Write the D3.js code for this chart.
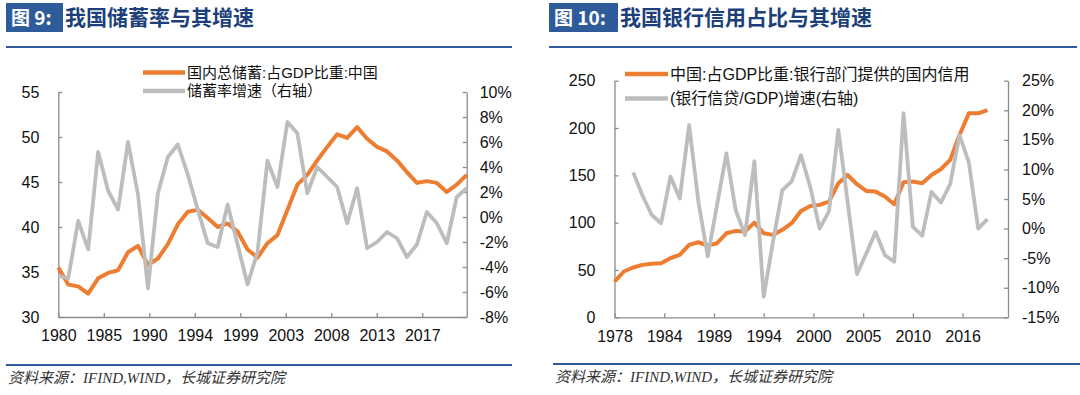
<!DOCTYPE html>
<meta charset="utf-8">
<style>
body { margin: 0; background: #fff; }
svg text { font-family: "Liberation Sans", Arial, "Noto Sans CJK SC", sans-serif; }
.axis path, .axis line { stroke: #8c8c8c; stroke-width: 1.3px; }
.axis text { font-size: 16px; fill: #111; }
.title { font-family: "Noto Sans CJK SC", sans-serif; font-weight: bold; }
.source { font-family: "Liberation Serif", "Noto Sans CJK SC", serif; font-style: italic; font-size: 15px; fill: #333; }
</style>
<body>
<script src="https://d3js.org/d3.v7.min.js"></script>
<script>

// ---- figure 9: savings rate ----
var years9 = [1980, 1981, 1982, 1983, 1984, 1985, 1986, 1987, 1988, 1989,
              1990, 1991, 1992, 1993, 1994, 1995, 1996, 1997, 1998, 1999,
              2000, 2001, 2002, 2003, 2004, 2005, 2006, 2007, 2008, 2009,
              2010, 2011, 2012, 2013, 2014, 2015, 2016, 2017, 2018, 2019,
              2020, 2021];
var savingShare = [35.5, 33.6, 33.4, 32.6, 34.3, 34.9, 35.2, 37.2, 37.9, 35.8,
                   36.5, 38.1, 40.3, 41.7, 41.9, 41.0, 40.0, 40.4, 39.5, 37.5,
                   36.6, 38.2, 39.1, 41.9, 44.7, 45.8, 47.4, 48.9, 50.3, 49.9,
                   51.1, 49.8, 48.9, 48.4, 47.4, 46.1, 44.9, 45.1, 44.9, 43.9,
                   44.7, 45.8];
var savingGrowth = [-4.7, -4.9, -0.3, -2.6, 5.2, 2.1, 0.6, 6.0, 1.8, -5.7,
                    1.9, 4.8, 5.8, 3.4, 0.6, -2.1, -2.4, 1.0, -2.2, -5.4,
                    -2.8, 4.5, 2.4, 7.6, 6.7, 1.9, 4.0, 3.2, 2.4, -0.5,
                    2.3, -2.5, -2.0, -1.2, -1.7, -3.2, -2.2, 0.4, -0.5, -2.1,
                    1.6, 2.3];
var xLabels9 = ["1980", "1985", "1990", "1994", "1999", "2003", "2008", "2013", "2017"];
var yLeft9 = [30, 35, 40, 45, 50, 55];
var yRight9 = [-8, -6, -4, -2, 0, 2, 4, 6, 8, 10];

// ---- figure 10: bank credit ----
var years10 = [1978, 1979, 1980, 1981, 1982, 1983, 1984, 1985, 1986, 1987,
               1988, 1989, 1990, 1991, 1992, 1993, 1994, 1995, 1996, 1997,
               1998, 1999, 2000, 2001, 2002, 2003, 2004, 2005, 2006, 2007,
               2008, 2009, 2010, 2011, 2012, 2013, 2014, 2015, 2016, 2017,
               2018];
var creditShare = [37.8, 48.4, 52.6, 55.4, 56.5, 57.2, 62.5, 66.0, 76.5, 79.3,
                   75.8, 78.3, 88.8, 91.3, 90.6, 100.1, 88.8, 87.1, 92.4, 99.4,
                   112.4, 117.7, 118.8, 122.3, 141.6, 150.4, 140.6, 133.5, 132.8, 127.6,
                   119.5, 142.7, 143.4, 141.6, 150.4, 156.4, 166.3, 192.6, 215.5, 215.5,
                   219.0];
var growthYears10 = [1980, 1981, 1982, 1983, 1984, 1985, 1986, 1987, 1988, 1989,
                     1990, 1991, 1992, 1993, 1994, 1995, 1996, 1997, 1998, 1999,
                     2000, 2001, 2002, 2003, 2004, 2005, 2006, 2007, 2008, 2009,
                     2010, 2011, 2012, 2013, 2014, 2015, 2016, 2017, 2018];
var creditGrowth = [9.5, 5.6, 2.3, 0.9, 8.8, 5.1, 17.5, 4.5, -4.7, 4.0,
                    12.7, 3.1, -1.1, 11.4, -11.5, -2.2, 6.5, 8.0, 12.4, 7.0,
                    0.0, 2.9, 16.7, 4.5, -7.7, -4.2, -0.6, -4.5, -5.6, 19.5,
                    0.3, -1.2, 6.2, 4.4, 7.5, 15.8, 11.2, 0.0, 1.6];
var xLabels10 = ["1978", "1984", "1989", "1994", "2000", "2005", "2010", "2016"];
var yLeft10 = [0, 50, 100, 150, 200, 250];
var yRight10 = [-15, -10, -5, 0, 5, 10, 15, 20, 25];

var ORANGE = "#ED7D31", GREY = "#BDBDBD", BLUE = "#2E5C9A";

var svg = d3.select("body").append("svg")
    .attr("width", 1080)
    .attr("height", 395);

function header(x0, x1, box, label, title) {
  svg.append("rect").attr("x", x0).attr("y", 3).attr("width", box).attr("height", 29).attr("fill", BLUE);
  svg.append("text").attr("class", "title").attr("x", x0 + 5).attr("y", 25)
     .attr("font-size", 19).attr("fill", "#fff").text(label);
  svg.append("text").attr("class", "title").attr("x", x0 + box + 2).attr("y", 25)
     .attr("font-size", 21).attr("fill", "#1D3F7A").text(title);
  svg.append("line").attr("x1", x0).attr("x2", x1).attr("y1", 47).attr("y2", 47)
     .attr("stroke", BLUE).attr("stroke-width", 2.2);
}

function footer(x0, x1, y) {
  svg.append("line").attr("x1", x0).attr("x2", x1).attr("y1", y).attr("y2", y)
     .attr("stroke", BLUE).attr("stroke-width", 2);
  svg.append("text").attr("class", "source").attr("x", x0 + 2).attr("y", y + 18)
     .text("资料来源：IFIND,WIND，长城证券研究院");
}

function panel(o) {
  var x = d3.scaleLinear().domain(o.xDomain).range([o.left, o.right]);
  var yL = d3.scaleLinear().domain(d3.extent(o.yLeft)).range([o.bottom, o.top]);
  var yR = d3.scaleLinear().domain(d3.extent(o.yRight)).range([o.bottom, o.top]);

  var tickVals = o.xLabels.map(function(d, i) { return o.xDomain[0] + i * o.tickStep; });
  svg.append("g").attr("class", "axis")
     .attr("transform", "translate(0," + o.bottom + ")")
     .call(d3.axisBottom(x).tickValues(tickVals).tickSizeInner(-4).tickSizeOuter(0)
           .tickPadding(13).tickFormat(function(d, i) { return o.xLabels[i]; }));
  svg.append("g").attr("class", "axis")
     .attr("transform", "translate(" + o.left + ",0)")
     .call(d3.axisLeft(yL).tickValues(o.yLeft).tickSizeInner(-4).tickSizeOuter(0)
           .tickPadding(o.padL));
  var gr = svg.append("g").attr("class", "axis")
     .attr("transform", "translate(" + o.right + ",0)")
     .call(d3.axisRight(yR).tickValues(o.yRight).tickSizeInner(-4).tickSizeOuter(0)
           .tickPadding(o.padR).tickFormat(function(d) { return d + "%"; }));

  var lineL = d3.line().x(function(d) { return x(d[0]); }).y(function(d) { return yL(d[1]); });
  var lineR = d3.line().x(function(d) { return x(d[0]); }).y(function(d) { return yR(d[1]); });

  svg.append("path").datum(d3.zip(o.years, o.left_values))
     .attr("d", lineL).attr("fill", "none").attr("stroke", ORANGE)
     .attr("stroke-width", 4).attr("stroke-linejoin", "round");
  svg.append("path").datum(d3.zip(o.yearsR, o.right_values))
     .attr("d", lineR).attr("fill", "none").attr("stroke", GREY)
     .attr("stroke-width", 3.8).attr("stroke-linejoin", "round");

  // legend
  var lg = svg.append("g").attr("transform", "translate(" + o.legX + "," + o.legY + ")");
  [[ORANGE, o.names[0]], [GREY, o.names[1]]].forEach(function(s, i) {
    lg.append("line").attr("x1", 0).attr("x2", o.legLen).attr("y1", i * o.legGap).attr("y2", i * o.legGap)
      .attr("stroke", s[0]).attr("stroke-width", 4.5);
    lg.append("text").attr("x", o.legLen + 2).attr("y", i * o.legGap).attr("dy", "0.35em")
      .attr("font-size", o.legFont).attr("fill", "#111").text(s[1]);
  });
}

header(6, 512, 57, "图 9:", "我国储蓄率与其增速");
header(549, 1077, 69, "图 10:", "我国银行信用占比与其增速");

panel({
  left: 58.3, right: 466.7, top: 92, bottom: 317,
  xDomain: [1980, 2021], tickStep: 4.567,
  xLabels: xLabels9, yLeft: yLeft9, yRight: yRight9,
  years: years9, left_values: savingShare,
  yearsR: years9, right_values: savingGrowth,
  padL: 19, padR: 13,
  legX: 143, legY: 72.5, legLen: 42, legGap: 18.5, legFont: 15,
  names: ["国内总储蓄:占GDP比重:中国", "储蓄率增速（右轴）"]
});

panel({
  left: 614.5, right: 1008, top: 80.7, bottom: 317.3,
  xDomain: [1978, 2020.2], tickStep: 5.333,
  xLabels: xLabels10, yLeft: yLeft10, yRight: yRight10,
  years: years10, left_values: creditShare,
  yearsR: growthYears10, right_values: creditGrowth,
  padL: 19, padR: 14,
  legX: 625, legY: 74, legLen: 43, legGap: 24.5, legFont: 16,
  names: ["中国:占GDP比重:银行部门提供的国内信用", "(银行信贷/GDP)增速(右轴)"]
});

footer(6, 512, 365);
footer(553, 1080, 364);

</script>
</body>
</html>
